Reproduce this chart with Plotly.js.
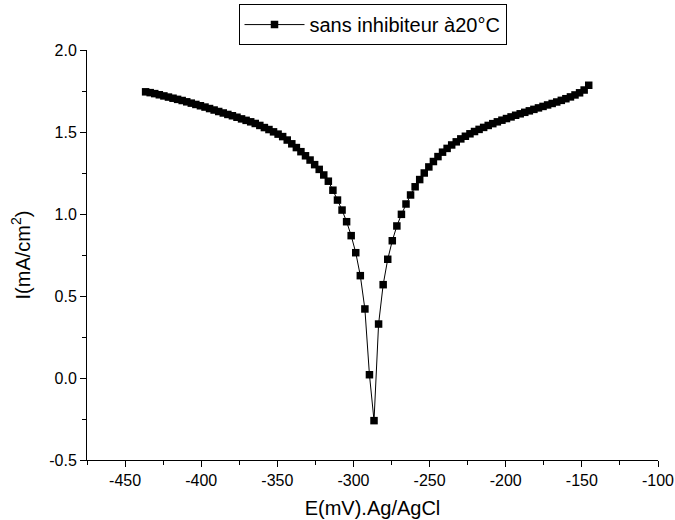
<!DOCTYPE html>
<html>
<head>
<meta charset="utf-8">
<script src="https://cdn.plot.ly/plotly-3.0.1.min.js"></script>
<style>html,body{margin:0;padding:0;background:#fff;}#chart{width:675px;height:520px;}</style>
</head>
<body>
<div id="chart"></div>
<script>
// Potential E (mV vs Ag/AgCl)
const potentialE = [
  -436.5, -433.5, -430.5, -427.5, -424.5, -421.5, -418.5, -415.5, -412.5, -409.5,
  -406.5, -403.5, -400.5, -397.5, -394.5, -391.5, -388.5, -385.5, -382.5, -379.5,
  -376.5, -373.5, -370.5, -367.5, -364.5, -361.5, -358.5, -355.5, -352.5, -349.5,
  -346.5, -343.5, -340.5, -337.5, -334.5, -331.5, -328.5, -325.5, -322.5, -319.5,
  -316.5, -313.5, -310.5, -307.5, -304.5, -301.5, -298.5, -295.5, -292.5, -289.5,
  -286.5, -283.5, -280.5, -277.5, -274.5, -271.5, -268.5, -265.5, -262.5, -259.5,
  -256.5, -253.5, -250.5, -247.5, -244.5, -241.5, -238.5, -235.5, -232.5, -229.5,
  -226.5, -223.5, -220.5, -217.5, -214.5, -211.5, -208.5, -205.5, -202.5, -199.5,
  -196.5, -193.5, -190.5, -187.5, -184.5, -181.5, -178.5, -175.5, -172.5, -169.5,
  -166.5, -163.5, -160.5, -157.5, -154.5, -151.5, -148.5, -145.5
];
// Current I (mA/cm2), sans inhibiteur à 20°C
const currentI = [
  1.745, 1.740, 1.734, 1.727, 1.720, 1.713, 1.706, 1.699, 1.692, 1.684,
  1.676, 1.668, 1.660, 1.652, 1.643, 1.634, 1.625, 1.616, 1.607, 1.599,
  1.590, 1.580, 1.571, 1.562, 1.552, 1.540, 1.527, 1.515, 1.501, 1.487,
  1.472, 1.451, 1.428, 1.405, 1.380, 1.355, 1.329, 1.301, 1.272, 1.238,
  1.200, 1.145, 1.085, 1.024, 0.953, 0.868, 0.764, 0.624, 0.421, 0.020,
  -0.260, 0.329, 0.569, 0.724, 0.837, 0.927, 0.998, 1.061, 1.116, 1.166,
  1.210, 1.250, 1.287, 1.320, 1.350, 1.377, 1.400, 1.421, 1.440, 1.458,
  1.474, 1.489, 1.503, 1.516, 1.528, 1.540, 1.551, 1.562, 1.572, 1.582,
  1.592, 1.602, 1.611, 1.620, 1.629, 1.638, 1.647, 1.656, 1.665, 1.674,
  1.683, 1.693, 1.703, 1.714, 1.726, 1.739, 1.756, 1.785
];
const xTickVals = [-450, -400, -350, -300, -250, -200, -150, -100];
const yTickVals = [-0.5, 0.0, 0.5, 1.0, 1.5, 2.0];
const seriesName = 'sans inhibiteur à20°C';

const FONT = 'Arial, "Liberation Sans", sans-serif';

const trace = {
  x: potentialE,
  y: currentI,
  type: 'scatter',
  mode: 'lines+markers',
  name: seriesName,
  line: {color: '#000', width: 1},
  marker: {symbol: 'square', size: 7.5, color: '#000'}
};

const layout = {
  width: 675,
  height: 520,
  paper_bgcolor: '#fff',
  plot_bgcolor: '#fff',
  font: {family: FONT, color: '#000', size: 16},
  margin: {l: 87, r: 17, t: 50, b: 60, pad: 0, autoexpand: false},
  showlegend: true,
  legend: {
    x: 0.5, xanchor: 'center', xref: 'paper',
    y: 1.112, yanchor: 'top',
    bordercolor: '#000', borderwidth: 1,
    bgcolor: '#fff',
    font: {family: FONT, size: 20, color: '#000'},
    itemwidth: 60,
    orientation: 'h'
  },
  xaxis: {
    range: [-475, -100],
    tickvals: xTickVals,
    ticktext: xTickVals.map(v => String(v)),
    ticks: 'outside', ticklen: 6, tickwidth: 1, tickcolor: '#000',
    showline: true, linecolor: '#000', linewidth: 1,
    showgrid: false, zeroline: false,
    tickfont: {family: FONT, size: 16},
    minor: {dtick: 25, tick0: -475, ticks: 'outside', ticklen: 4, tickcolor: '#000', showgrid: false},
    title: {text: 'E(mV).Ag/AgCl', font: {family: FONT, size: 20}, standoff: 12}
  },
  yaxis: {
    range: [-0.5, 2.0],
    tickvals: yTickVals,
    ticktext: yTickVals.map(v => v.toFixed(1)),
    ticks: 'outside', ticklen: 6, tickwidth: 1, tickcolor: '#000',
    showline: true, linecolor: '#000', linewidth: 1,
    showgrid: false, zeroline: false,
    tickfont: {family: FONT, size: 16},
    minor: {dtick: 0.25, tick0: -0.5, ticks: 'outside', ticklen: 4, tickcolor: '#000', showgrid: false},
    title: {text: 'I(mA/cm<sup>2</sup>)', font: {family: FONT, size: 20}, standoff: 13}
  }
};

Plotly.newPlot('chart', [trace], layout, {displayModeBar: false, staticPlot: true});
</script>
</body>
</html>
